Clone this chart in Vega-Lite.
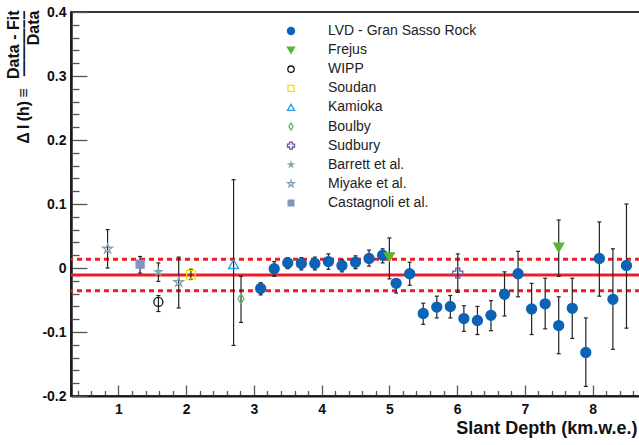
{
  "$schema": "https://vega.github.io/schema/vega-lite/v6.json",
  "width": 569,
  "height": 384,
  "autosize": {"type": "none"},
  "padding": {"left": 71, "top": 12, "right": 0, "bottom": 49},
  "background": "white",
  "config": {
    "view": {"stroke": "#333333", "strokeWidth": 2},
    "font": "Liberation Sans",
    "axis": {
      "grid": false,
      "labelFont": "Liberation Sans",
      "labelFontWeight": "bold",
      "labelFontSize": 14,
      "labelColor": "#111111",
      "titleFont": "Liberation Sans",
      "titleFontWeight": "bold",
      "titleColor": "#111111",
      "domainColor": "#1a1a1a",
      "tickColor": "#555555",
      "tickWidth": 1.3
    },
    "legend": {
      "labelFont": "Liberation Sans",
      "labelFontSize": 14,
      "labelColor": "#222222",
      "symbolSize": 50,
      "symbolStrokeWidth": 1.3,
      "rowPadding": 5.1,
      "labelOffset": 30
    }
  },
  "datasets": {
    "fit": [
      {"kind": "fit", "dev": -0.011},
      {"kind": "band", "dev": 0.0135},
      {"kind": "band", "dev": -0.0355}
    ],
    "pts": [
      {"exp": "LVD - Gran Sasso Rock", "depth": 3.1, "dev": -0.032, "lo": -0.042, "hi": -0.023},
      {"exp": "LVD - Gran Sasso Rock", "depth": 3.3, "dev": -0.001, "lo": -0.013, "hi": 0.010},
      {"exp": "LVD - Gran Sasso Rock", "depth": 3.5, "dev": 0.008, "lo": -0.001, "hi": 0.016},
      {"exp": "LVD - Gran Sasso Rock", "depth": 3.7, "dev": 0.007, "lo": -0.003, "hi": 0.016},
      {"exp": "LVD - Gran Sasso Rock", "depth": 3.9, "dev": 0.007, "lo": -0.003, "hi": 0.017},
      {"exp": "LVD - Gran Sasso Rock", "depth": 4.1, "dev": 0.010, "lo": -0.002, "hi": 0.022},
      {"exp": "LVD - Gran Sasso Rock", "depth": 4.3, "dev": 0.004, "lo": -0.006, "hi": 0.013},
      {"exp": "LVD - Gran Sasso Rock", "depth": 4.5, "dev": 0.009, "lo": -0.001, "hi": 0.019},
      {"exp": "LVD - Gran Sasso Rock", "depth": 4.7, "dev": 0.015, "lo": 0.003, "hi": 0.028},
      {"exp": "LVD - Gran Sasso Rock", "depth": 4.9, "dev": 0.020, "lo": 0.008, "hi": 0.030},
      {"exp": "LVD - Gran Sasso Rock", "depth": 5.1, "dev": -0.024, "lo": -0.039, "hi": -0.017},
      {"exp": "LVD - Gran Sasso Rock", "depth": 5.3, "dev": -0.009, "lo": -0.027, "hi": 0.009},
      {"exp": "LVD - Gran Sasso Rock", "depth": 5.5, "dev": -0.071, "lo": -0.088, "hi": -0.055},
      {"exp": "LVD - Gran Sasso Rock", "depth": 5.7, "dev": -0.061, "lo": -0.078, "hi": -0.044},
      {"exp": "LVD - Gran Sasso Rock", "depth": 5.9, "dev": -0.060, "lo": -0.078, "hi": -0.043},
      {"exp": "LVD - Gran Sasso Rock", "depth": 6.1, "dev": -0.079, "lo": -0.099, "hi": -0.059},
      {"exp": "LVD - Gran Sasso Rock", "depth": 6.3, "dev": -0.082, "lo": -0.104, "hi": -0.060},
      {"exp": "LVD - Gran Sasso Rock", "depth": 6.5, "dev": -0.074, "lo": -0.098, "hi": -0.051},
      {"exp": "LVD - Gran Sasso Rock", "depth": 6.7, "dev": -0.041, "lo": -0.075, "hi": -0.006},
      {"exp": "LVD - Gran Sasso Rock", "depth": 6.9, "dev": -0.009, "lo": -0.045, "hi": 0.026},
      {"exp": "LVD - Gran Sasso Rock", "depth": 7.1, "dev": -0.064, "lo": -0.104, "hi": -0.024},
      {"exp": "LVD - Gran Sasso Rock", "depth": 7.3, "dev": -0.056, "lo": -0.095, "hi": -0.016},
      {"exp": "LVD - Gran Sasso Rock", "depth": 7.5, "dev": -0.090, "lo": -0.134, "hi": -0.045},
      {"exp": "LVD - Gran Sasso Rock", "depth": 7.7, "dev": -0.063, "lo": -0.110, "hi": -0.016},
      {"exp": "LVD - Gran Sasso Rock", "depth": 7.9, "dev": -0.132, "lo": -0.185, "hi": -0.078},
      {"exp": "LVD - Gran Sasso Rock", "depth": 8.1, "dev": 0.015, "lo": -0.044, "hi": 0.072},
      {"exp": "LVD - Gran Sasso Rock", "depth": 8.3, "dev": -0.049, "lo": -0.127, "hi": 0.030},
      {"exp": "LVD - Gran Sasso Rock", "depth": 8.5, "dev": 0.004, "lo": -0.094, "hi": 0.100},
      {"exp": "Frejus", "depth": 5.0, "dev": 0.017, "lo": -0.017, "hi": 0.047},
      {"exp": "Frejus", "depth": 7.5, "dev": 0.032, "lo": -0.013, "hi": 0.075},
      {"exp": "WIPP", "depth": 1.59, "dev": -0.053, "lo": -0.068, "hi": -0.043},
      {"exp": "Soudan", "depth": 2.07, "dev": -0.0105, "lo": -0.018, "hi": -0.002},
      {"exp": "Kamioka", "depth": 2.7, "dev": 0.006, "lo": -0.121, "hi": 0.138},
      {"exp": "Boulby", "depth": 2.81, "dev": -0.048, "lo": -0.085, "hi": -0.013},
      {"exp": "Sudbury", "depth": 6.01, "dev": -0.008, "lo": -0.038, "hi": 0.022},
      {"exp": "Barrett et al.", "depth": 1.59, "dev": -0.006, "lo": -0.021, "hi": 0.008},
      {"exp": "Miyake et al.", "depth": 0.84, "dev": 0.030, "lo": 0.000, "hi": 0.060},
      {"exp": "Miyake et al.", "depth": 1.89, "dev": -0.022, "lo": -0.0625, "hi": 0.017},
      {"exp": "Castagnoli et al.", "depth": 1.32, "dev": 0.006, "lo": -0.008, "hi": 0.018}
    ]
  },
  "resolve": {"axis": {"y": "independent"}},
  "layer": [
    {
      "data": {"name": "fit"},
      "transform": [{"filter": "datum.kind === 'fit'"}],
      "mark": {"type": "rule", "color": "#ee1c25", "strokeWidth": 3},
      "encoding": {
        "y": {
          "field": "dev",
          "type": "quantitative",
          "scale": {"domain": [-0.2, 0.4], "nice": false, "zero": false},
          "axis": {
            "orient": "left",
            "title": ["Data - Fit", "\u0394\u2009I\u2009(h)\u2009\u2261\u2009\u00a0\u00a0\u2014\u2014\u2014\u2013\u2013", "Data\u00a0\u00a0\u00a0\u00a0"],
            "titleFontSize": 16,
            "titleLineHeight": 10,
            "titleAlign": "right",
            "titleBaseline": "alphabetic",
            "titleX": -53,
            "titleY": -2,
            "domainWidth": 2.5,
            "labelOverlap": false,
            "labelFlush": false,
            "labelBound": false,
            "values": [-0.2, -0.1, 0, 0.1, 0.2, 0.3, 0.4],
            "labelExpr": "(datum.value < -0.001 ? '-' : '') + format(abs(datum.value), '.1~f')",
            "tickSize": -16,
            "labelPadding": 21
          }
        }
      }
    },
    {
      "data": {"name": "fit"},
      "transform": [{"filter": "datum.kind === 'band'"}],
      "mark": {"type": "rule", "color": "#ee1c25", "strokeWidth": 3, "strokeDash": [5, 4]},
      "encoding": {
        "y": {
          "field": "dev",
          "type": "quantitative",
          "axis": {
            "orient": "left",
            "title": null,
            "labels": false,
            "domain": false,
            "tickSize": -8,
            "values": [-0.18, -0.16, -0.14, -0.12, -0.08, -0.06, -0.04, -0.02, 0.02, 0.04, 0.06, 0.08, 0.12, 0.14, 0.16, 0.18, 0.22, 0.24, 0.26, 0.28, 0.32, 0.34, 0.36, 0.38]
          }
        }
      }
    },
    {
      "data": {"name": "pts"},
      "encoding": {
        "x": {
          "field": "depth",
          "type": "quantitative",
          "scale": {"domain": [0.3, 8.7], "nice": false, "zero": false},
          "axis": {
            "title": "Slant Depth (km.w.e.)",
            "titleFontSize": 18,
            "titleAnchor": "end",
            "titleAlign": "right",
            "titleBaseline": "alphabetic",
            "titleX": 566,
            "titleY": 37,
            "domainWidth": 2,
            "labelOverlap": false,
            "labelFlush": false,
            "labelBound": false,
            "values": [0.4, 0.6, 0.8, 1, 1.2, 1.4, 1.6, 1.8, 2, 2.2, 2.4, 2.6, 2.8, 3, 3.2, 3.4, 3.6, 3.8, 4, 4.2, 4.4, 4.6, 4.8, 5, 5.2, 5.4, 5.6, 5.8, 6, 6.2, 6.4, 6.6, 6.8, 7, 7.2, 7.4, 7.6, 7.8, 8, 8.2, 8.4, 8.6],
            "labelExpr": "abs(datum.value - round(datum.value)) < 0.001 ? format(round(datum.value), 'd') : ''",
            "tickSize": {"condition": {"test": "abs(datum.value - round(datum.value)) < 0.001", "value": -11}, "value": -5.5},
            "labelPadding": 17
          }
        }
      },
      "layer": [
        {
          "mark": {"type": "rule", "color": "#222222", "strokeWidth": 1.2},
          "encoding": {
            "y": {"field": "lo", "type": "quantitative", "axis": null},
            "y2": {"field": "hi"}
          }
        },
        {
          "mark": {"type": "tick", "orient": "horizontal", "color": "#222222", "size": 4, "thickness": 1.2, "opacity": 1},
          "encoding": {
            "y": {"field": "lo", "type": "quantitative", "axis": null}
          }
        },
        {
          "mark": {"type": "tick", "orient": "horizontal", "color": "#222222", "size": 4, "thickness": 1.2, "opacity": 1},
          "encoding": {
            "y": {"field": "hi", "type": "quantitative", "axis": null}
          }
        },
        {
          "mark": {"type": "point", "opacity": 1, "strokeWidth": 1.3, "size": 100},
          "encoding": {
            "y": {"field": "dev", "type": "quantitative", "axis": null},
            "shape": {
              "field": "exp",
              "type": "nominal",
              "scale": {
                "domain": ["LVD - Gran Sasso Rock", "Frejus", "WIPP", "Soudan", "Kamioka", "Boulby", "Sudbury", "Barrett et al.", "Miyake et al.", "Castagnoli et al."],
                "range": [
                  "M-1,0A1,1,0,1,1,1,0A1,1,0,1,1,-1,0Z",
                  "triangle-down",
                  "M-0.9,0A0.9,0.9,0,1,1,0.9,0A0.9,0.9,0,1,1,-0.9,0Z",
                  "M-0.85,-0.85L0.85,-0.85L0.85,0.85L-0.85,0.85Z",
                  "triangle-up",
                  "M0,-1L0.6,0L0,1L-0.6,0Z",
                  "cross",
                  "M0,-0.72L0.16,-0.22L0.68,-0.22L0.26,0.08L0.42,0.58L0,0.27L-0.42,0.58L-0.26,0.08L-0.68,-0.22L-0.16,-0.22Z",
                  "M0,-1L0.223,-0.307L0.951,-0.309L0.361,0.117L0.588,0.809L0,0.38L-0.588,0.809L-0.361,0.117L-0.951,-0.309L-0.223,-0.307Z",
                  "M-0.8,-0.8L0.8,-0.8L0.8,0.8L-0.8,0.8Z"
                ]
              },
              "legend": {"orient": "none", "legendX": 213, "legendY": 12, "title": null}
            },
            "fill": {
              "field": "exp",
              "type": "nominal",
              "scale": {
                "domain": ["LVD - Gran Sasso Rock", "Frejus", "WIPP", "Soudan", "Kamioka", "Boulby", "Sudbury", "Barrett et al.", "Miyake et al.", "Castagnoli et al."],
                "range": ["#0b63b5", "#5cb335", "transparent", "transparent", "transparent", "transparent", "transparent", "#8aa5ad", "transparent", "#8693bd"]
              },
              "legend": {"orient": "none", "legendX": 213, "legendY": 12, "title": null}
            },
            "stroke": {
              "field": "exp",
              "type": "nominal",
              "scale": {
                "domain": ["LVD - Gran Sasso Rock", "Frejus", "WIPP", "Soudan", "Kamioka", "Boulby", "Sudbury", "Barrett et al.", "Miyake et al.", "Castagnoli et al."],
                "range": ["#0b63b5", "#5cb335", "#111111", "#f2e200", "#1fa3e6", "#5fb36a", "#6a58a8", "#8aa5ad", "#8a9fb0", "#8693bd"]
              },
              "legend": {"orient": "none", "legendX": 213, "legendY": 12, "title": null}
            }
          }
        }
      ]
    }
  ]
}
